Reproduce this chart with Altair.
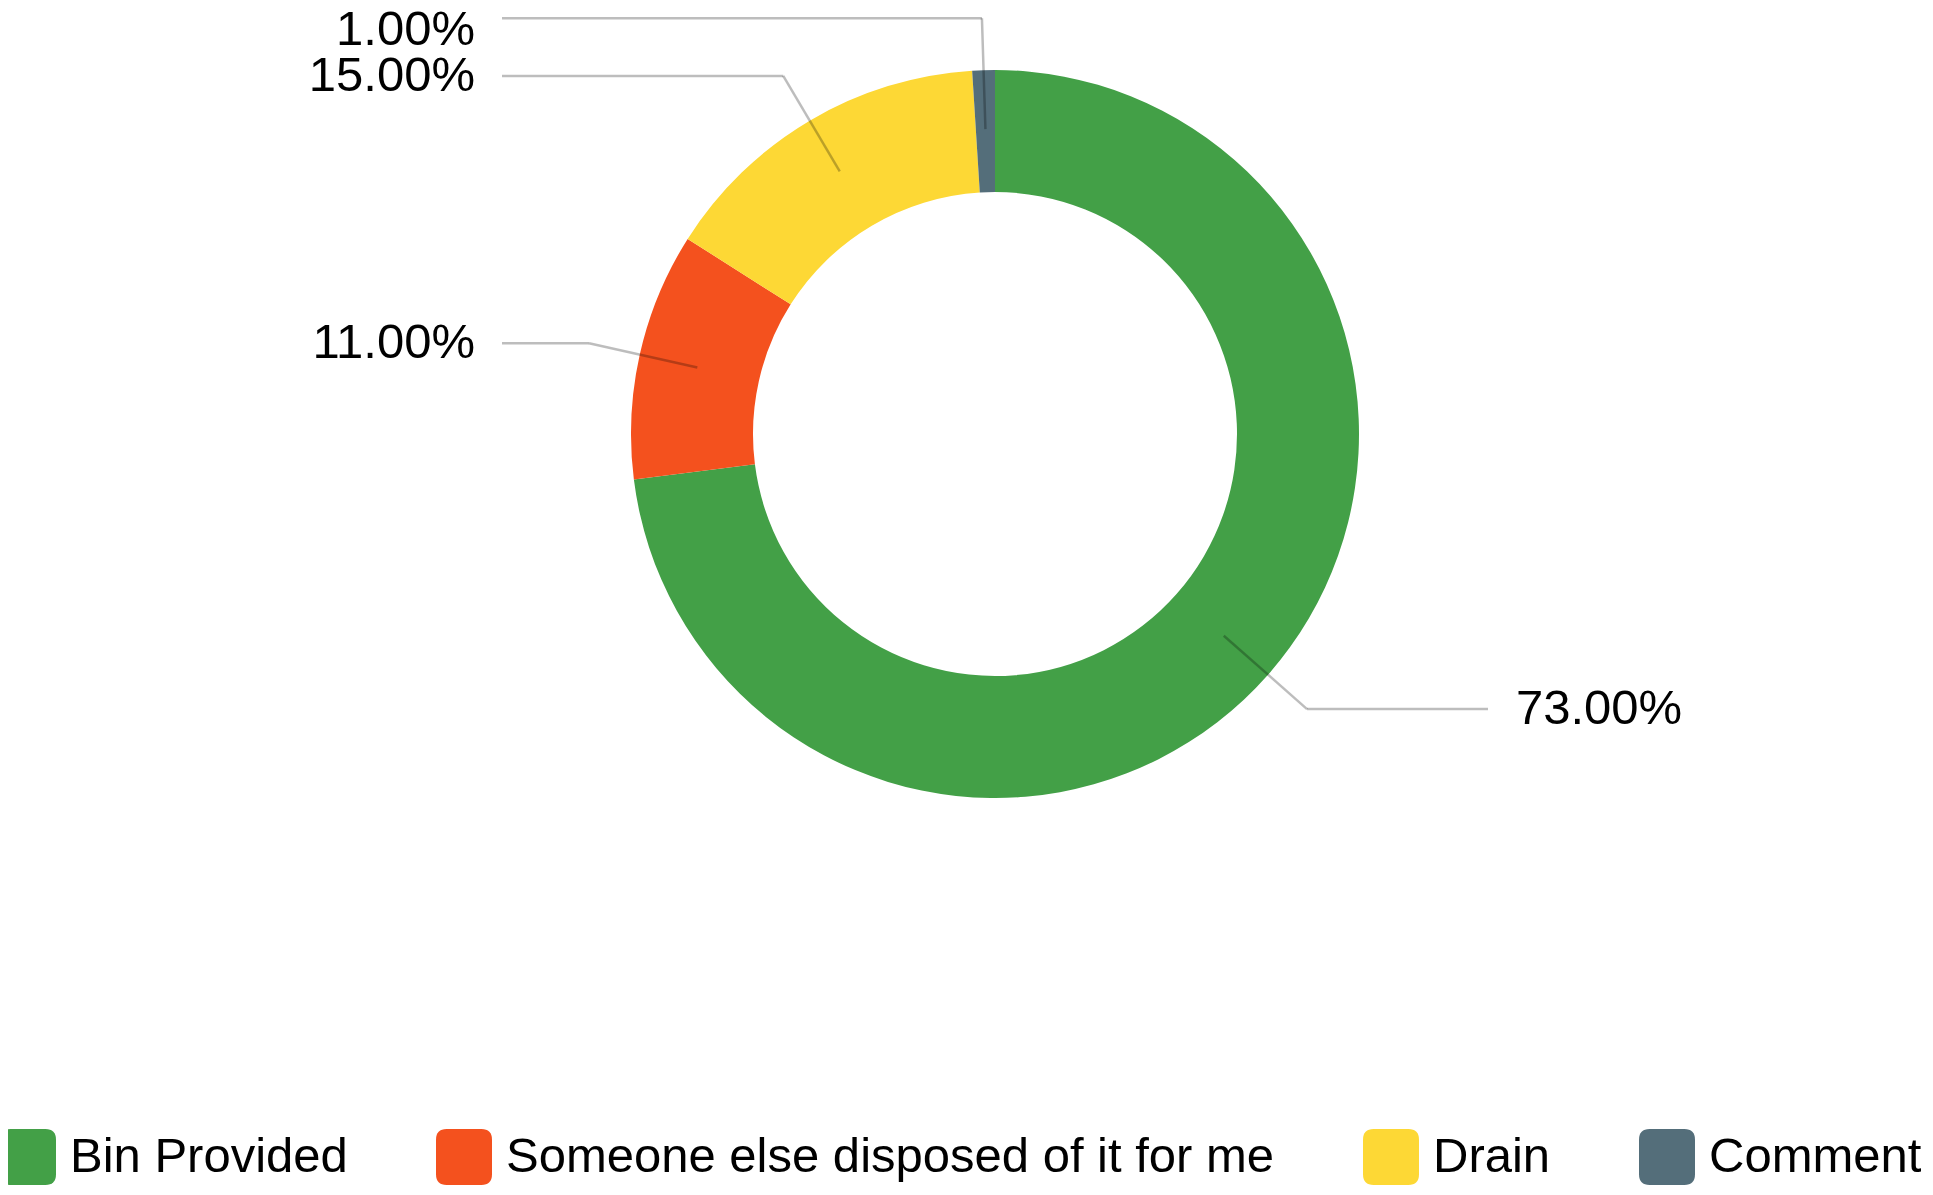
import altair as alt
import pandas as pd

# ---- data ----
categories = ["Bin Provided", "Someone else disposed of it for me", "Drain", "Comment"]
shares = [73, 11, 15, 1]
labels = ["73.00%", "11.00%", "15.00%", "1.00%"]
colors = ["#43A047", "#F4511E", "#FDD835", "#546E7A"]

df = pd.DataFrame({
    "category": categories,
    "share": shares,
    "label": labels,
    "order": list(range(len(categories))),
})

# ---- layout constants ----
W, H = 1917, 1179
CX, CY = 987, 426
R_IN, R_OUT = 242, 364
R_LEAD, R_ELBOW = 305, 416
LEFT_END, RIGHT_END = 494, 1480
LEFT_TEXT, RIGHT_TEXT = 467, 1508
TEXT_MIN_Y = 22
FONT = "Liberation Sans"

rounded_square = ("M-0.62,-1H0.62Q1,-1,1,-0.62V0.62Q1,1,0.62,1H-0.62"
                  "Q-1,1,-1,0.62V-0.62Q-1,-1,-0.62,-1Z")

arcs = alt.Chart(df).mark_arc(innerRadius=R_IN, outerRadius=R_OUT).encode(
    theta=alt.Theta("share:Q", stack=True),
    order=alt.Order("order:Q"),
    color=alt.Color(
        "category:N",
        scale=alt.Scale(domain=categories, range=colors),
        legend=alt.Legend(
            title=None,
            orient="none",
            direction="horizontal",
            legendX=-8,
            legendY=1121,
            symbolType=rounded_square,
            symbolSize=3136,
            symbolStrokeWidth=0,
            symbolOpacity=1,
            labelFont=FONT,
            labelFontSize=49,
            labelColor="black",
            labelOffset=14,
            labelLimit=2000,
            columnPadding=88,
        ),
    ),
    x=alt.value(CX),
    y=alt.value(CY),
)

base = (
    alt.Chart(df)
    .transform_window(cum="sum(share)", sort=[alt.SortField("order")])
    .transform_joinaggregate(total="sum(share)")
    .transform_calculate(mid="(datum.cum - datum.share / 2) / datum.total * 2 * PI")
    .transform_calculate(x_in=f"{CX} + {R_LEAD} * sin(datum.mid)")
    .transform_calculate(y_in=f"{CY} - {R_LEAD} * cos(datum.mid)")
    .transform_calculate(x_el=f"{CX} + {R_ELBOW} * sin(datum.mid)")
    .transform_calculate(y_el=f"{CY} - {R_ELBOW} * cos(datum.mid)")
    .transform_calculate(y_txt=f"max(datum.y_el, {TEXT_MIN_Y})")
    .transform_calculate(x_end=f"sin(datum.mid) < 0 ? {LEFT_END} : {RIGHT_END}")
    .transform_calculate(x_txt=f"sin(datum.mid) < 0 ? {LEFT_TEXT} : {RIGHT_TEXT}")
    .transform_calculate(side="sin(datum.mid) < 0 ? 'left' : 'right'")
)

lead1 = base.mark_rule(color="black", opacity=0.26, strokeWidth=2.5).encode(
    x=alt.X("x_in:Q", scale=None, axis=None),
    y=alt.Y("y_in:Q", scale=None, axis=None),
    x2="x_el:Q",
    y2="y_el:Q",
)
lead2 = base.mark_rule(color="black", opacity=0.26, strokeWidth=2.5).encode(
    x=alt.X("x_el:Q", scale=None, axis=None),
    y=alt.Y("y_el:Q", scale=None, axis=None),
    x2="x_end:Q",
)

text_left = base.transform_filter("datum.side == 'left'").mark_text(
    font=FONT, fontSize=49, color="black", align="right", baseline="middle"
).encode(
    x=alt.X("x_txt:Q", scale=None, axis=None),
    y=alt.Y("y_txt:Q", scale=None, axis=None),
    text="label:N",
)
text_right = base.transform_filter("datum.side == 'right'").mark_text(
    font=FONT, fontSize=49, color="black", align="left", baseline="middle"
).encode(
    x=alt.X("x_txt:Q", scale=None, axis=None),
    y=alt.Y("y_txt:Q", scale=None, axis=None),
    text="label:N",
)

chart = (
    alt.layer(arcs, lead1, lead2, text_left, text_right)
    .properties(width=W, height=H, padding=0, autosize=alt.AutoSizeParams(type="none"))
    .configure_view(stroke=None)
    .resolve_scale(x="independent", y="independent")
)

chart.save("out.html", embed_options={"renderer": "svg", "actions": False})
